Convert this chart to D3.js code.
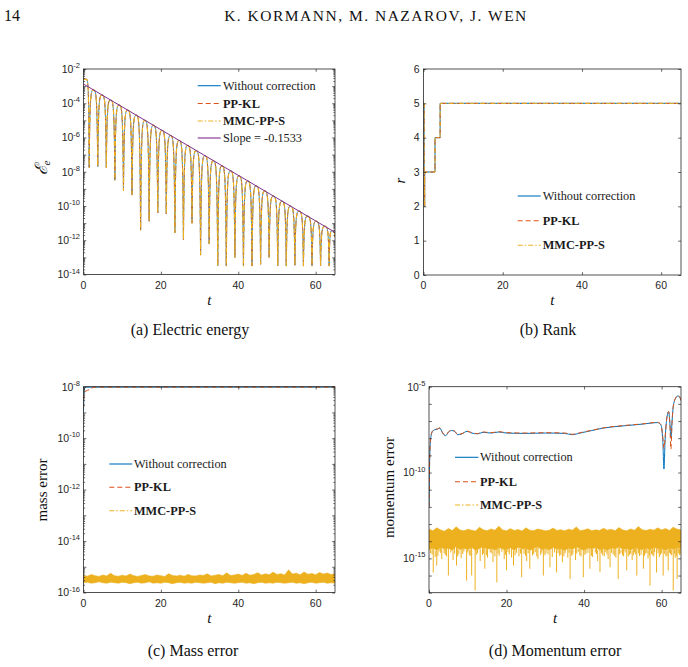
<!DOCTYPE html>
<html><head><meta charset="utf-8">
<script src="https://cdn.jsdelivr.net/npm/d3@7"></script>
<style>body{margin:0;background:#fff}svg{display:block}</style>
</head><body>
<svg id="c" width="688" height="667"></svg>
<script>
// ---------------- data ----------------
const tMax = 65;
const xTickVals = [0, 20, 40, 60];

// (a) electric energy: cusp (trough) knots, arch peaks
const eKnotT = [0, 1.47, 3.68, 5.90, 8.11, 10.33, 12.54, 14.76, 16.97, 19.19, 21.40, 23.62, 25.83, 28.05, 30.26, 32.48, 34.69, 36.91, 39.12, 41.34, 43.55, 45.77, 47.98, 50.20, 52.41, 54.63, 56.84, 59.06, 61.27, 63.49, 65];
const eKnotV = [2.5e-3, 1.8e-8, 2.0e-8, 1.8e-8, 3.2e-9, 8e-10, 4.5e-10, 4e-12, 1.3e-11, 4e-11, 3.5e-11, 2.8e-12, 1.1e-12, 1e-11, 1.4e-13, 6.3e-13, 3.2e-14, 3.2e-14, 1e-13, 3.2e-14, 3.2e-14, 4e-14, 1e-13, 3.2e-14, 3.2e-14, 3.5e-14, 3.2e-14, 3.2e-14, 3.2e-14, 3.2e-14, 1.5e-12];
const ePeakV = [2.5e-3, 6.0e-4, 3.0e-4, 1.54e-4, 7.8e-5, 3.9e-5, 2.0e-5, 1.0e-5, 5.2e-6, 2.6e-6, 1.3e-6, 6.7e-7, 3.4e-7, 1.7e-7, 8.7e-8, 4.4e-8, 2.2e-8, 1.14e-8, 5.8e-9, 2.9e-9, 1.5e-9, 7.5e-10, 3.8e-10, 1.9e-10, 9.8e-11, 5.0e-11, 2.5e-11, 1.28e-11, 6.5e-12, 3.6e-12];
const slopeT = [0, 65];
const slopeV = [1.32e-3, 2.9e-12];
const aYTicks = [1e-14, 1e-13, 1e-12, 1e-11, 1e-10, 1e-9, 1e-8, 1e-7, 1e-6, 1e-5, 1e-4, 1e-3, 1e-2];
const aYLabelExp = [-14, -12, -10, -8, -6, -4, -2];

// (b) rank
const rankT = [0, 0.15, 0.3, 2.9, 4.2, 65];
const rankV = [5, 2, 3, 4, 5, 5];
const bYTicks = [0, 1, 2, 3, 4, 5, 6];

// (c) mass error
const massBlueT = [0, 0.1, 0.2, 0.4, 0.8, 65];
const massBlueV = [1e-9, 5e-9, 8.5e-9, 9.4e-9, 9.6e-9, 9.6e-9];
const massRedT = [0, 0.15, 0.4, 1.0, 1.6, 2.2, 3.0, 65];
const massRedV = [1.5e-9, 5e-9, 6.5e-9, 7.2e-9, 7.8e-9, 9e-9, 9.6e-9, 9.6e-9];
const massBandT = d3.range(0, 66);
const massBandHi = [4.6e-16,4.3e-16,5e-16,4.5e-16,4.2e-16,4.8e-16,4.4e-16,5.6e-16,4.5e-16,4.3e-16,
  4.7e-16,4.4e-16,5.2e-16,4.5e-16,4.2e-16,4.6e-16,5e-16,4.4e-16,4.3e-16,4.8e-16,
  4.5e-16,4.2e-16,5.4e-16,4.6e-16,4.4e-16,4.7e-16,4.3e-16,5e-16,4.5e-16,4.4e-16,
  4.8e-16,4.6e-16,5.3e-16,4.4e-16,4.7e-16,5e-16,4.5e-16,5.8e-16,4.6e-16,4.8e-16,
  5.2e-16,4.6e-16,5.6e-16,4.7e-16,5e-16,5.9e-16,4.8e-16,5.3e-16,4.9e-16,6.2e-16,
  5e-16,5.4e-16,4.8e-16,7.6e-16,5.2e-16,5.6e-16,4.9e-16,6.3e-16,5.1e-16,5.5e-16,
  4.9e-16,6e-16,5.2e-16,5.7e-16,5e-16,5.4e-16];
const massBandLo = [2.4e-16,2.5e-16,2.3e-16,2.4e-16,2.6e-16,2.4e-16,2.3e-16,2.5e-16,2.4e-16,2.3e-16,
  2.5e-16,2.4e-16,2.2e-16,2.4e-16,2.5e-16,2.3e-16,2.4e-16,2.6e-16,2.3e-16,2.4e-16,
  2.3e-16,2.5e-16,2.4e-16,2.2e-16,2.4e-16,2.5e-16,2.3e-16,2.4e-16,2.3e-16,2.5e-16,
  2.4e-16,2.3e-16,2.4e-16,2.5e-16,2.2e-16,2.4e-16,2.3e-16,2.5e-16,2.4e-16,2.3e-16,
  2.4e-16,2.5e-16,2.3e-16,2.4e-16,2.2e-16,2.4e-16,2.5e-16,2.3e-16,2.4e-16,2.3e-16,
  2.5e-16,2.4e-16,2.3e-16,2.4e-16,2.5e-16,2.3e-16,2.4e-16,2.2e-16,2.4e-16,2.5e-16,
  2.3e-16,2.4e-16,2.5e-16,2.3e-16,2.4e-16,2.3e-16];
const cYTicks = [1e-16, 1e-15, 1e-14, 1e-13, 1e-12, 1e-11, 1e-10, 1e-9, 1e-8];
const cYLabelExp = [-16, -14, -12, -10, -8];

// (d) momentum error
const momT = [0, 0.2, 0.5, 0.9, 1.5, 2.2, 2.8, 3.5, 4.3, 5.0, 5.8, 6.6, 7.4, 8.5, 9.8, 11, 12.5, 14, 16, 18, 20, 25, 30, 35, 37, 39, 42, 45, 50, 55, 59, 59.8, 60.3, 60.6, 60.9, 61.3, 61.8, 62.1, 62.4, 62.7, 63.0, 63.6, 64.2, 64.6, 65];
const momBlueV = [1e-12, 1e-9, 1.26e-8, 2.5e-8, 3.1e-8, 3.4e-8, 3.9e-8, 2e-8, 1.4e-8, 2.2e-8, 2.8e-8, 2.5e-8, 1.6e-8, 1.8e-8, 2.5e-8, 2e-8, 1.8e-8, 2.2e-8, 2e-8, 2.3e-8, 2e-8, 1.9e-8, 2e-8, 1.9e-8, 1.6e-8, 2e-8, 2.8e-8, 3.9e-8, 5.2e-8, 6.6e-8, 8.1e-8, 6e-8, 8.1e-9, 1.6e-10, 7.9e-9, 1.2e-7, 3.5e-7, 1e-7, 1e-8, 1e-7, 6.9e-7, 2.1e-6, 2.9e-6, 2.6e-6, 1.55e-6];
const momRedV = [1e-12, 1e-9, 1.3e-8, 2.6e-8, 3.2e-8, 3.5e-8, 4e-8, 2.1e-8, 1.45e-8, 2.3e-8, 2.9e-8, 2.6e-8, 1.65e-8, 1.85e-8, 2.6e-8, 2.1e-8, 1.85e-8, 2.3e-8, 2.1e-8, 2.4e-8, 2.1e-8, 2e-8, 2.1e-8, 2e-8, 1.7e-8, 2.1e-8, 2.9e-8, 4e-8, 5.4e-8, 6.8e-8, 8.4e-8, 6.3e-8, 1.2e-8, 2.5e-9, 1.1e-8, 1.25e-7, 3.6e-7, 9e-8, 2.3e-9, 9e-8, 7e-7, 2.2e-6, 3e-6, 2.7e-6, 1.6e-6];
const momBandT = d3.range(0, 66);
const momBandHi = [5e-14,4e-14,6e-14,4.5e-14,3.8e-14,5.5e-14,4.2e-14,7e-14,4.5e-14,4e-14,
  5e-14,4.4e-14,3.9e-14,6.5e-14,4.6e-14,4.1e-14,5.2e-14,4.3e-14,7.5e-14,4.5e-14,
  4e-14,5.4e-14,4.2e-14,4.8e-14,3.9e-14,6e-14,4.4e-14,4.1e-14,5.1e-14,4.6e-14,
  4e-14,4.3e-14,5.8e-14,4.2e-14,4.7e-14,4e-14,5e-14,4.4e-14,6.8e-14,4.1e-14,
  4.5e-14,5.3e-14,4e-14,4.6e-14,4.2e-14,5.6e-14,4.4e-14,4.9e-14,4.1e-14,6.2e-14,
  4.5e-14,4e-14,5.2e-14,4.3e-14,7.2e-14,4.6e-14,4.2e-14,5e-14,4.4e-14,6e-14,
  4.5e-14,5.5e-14,4.2e-14,6.6e-14,5e-14,4.6e-14];
const momBandLo = [3.1e-15,4.2e-15,2.8e-15,4.6e-15,3.5e-15,3.9e-15,2.9e-15,5e-15,3.2e-15,4e-15,
  3.1e-15,4.5e-15,2.9e-15,3.7e-15,4.8e-15,3.4e-15,3.9e-15,3e-15,4.3e-15,3.5e-15,
  3.2e-15,4.1e-15,2.9e-15,4.6e-15,3.5e-15,3.9e-15,2.9e-15,3.8e-15,4.9e-15,3.2e-15,
  3.9e-15,3e-15,4.4e-15,3.4e-15,3.7e-15,2.8e-15,4.2e-15,3.3e-15,4.7e-15,3.6e-15,
  3e-15,4e-15,3.5e-15,4.5e-15,3.1e-15,3.7e-15,2.9e-15,4.2e-15,3.4e-15,4.9e-15,
  3.2e-15,3.9e-15,2.9e-15,4.3e-15,3.5e-15,3.2e-15,4.1e-15,3e-15,4.6e-15,3.5e-15,
  3.8e-15,2.9e-15,4.2e-15,3.3e-15,4.5e-15,3.5e-15];
const momSpikes = [[0.4,2e-15],[1.1,1.5e-16],[1.6,1.2e-15],[2.0,3.8e-16],[2.6,2.5e-15],[3.3,9e-16],[3.9,2e-15],[4.5,1.3e-15],[5.0,1e-16],[5.6,2.2e-15],
  [6.2,8e-16],[7.1,3.8e-16],[7.7,1.8e-15],[8.3,1e-15],[9.0,2.5e-15],[9.7,5e-17],[10.4,1.5e-15],[11.0,1e-16],[11.9,1.35e-17],[12.5,2e-15],
  [13.2,7e-16],[13.8,1.6e-15],[14.4,2.5e-16],[15.1,1.1e-15],[15.8,2.2e-15],[16.5,6e-16],[17.5,4e-17],[18.1,1.4e-15],[18.8,2.4e-15],[19.4,9e-16],
  [20.0,2e-16],[20.7,1.7e-15],[21.3,1.1e-15],[21.8,3.8e-16],[22.6,2.1e-15],[23.2,1.3e-15],[23.9,8e-17],[24.5,1.8e-15],[25.2,7e-16],[26.0,2.5e-16],
  [26.7,1.5e-15],[27.4,2.3e-15],[28.1,9e-16],[28.8,1.6e-15],[29.5,1e-16],[30.2,2e-15],[31.2,3e-16],[31.8,1.2e-15],[32.4,2.2e-15],[32.9,1.5e-16],
  [33.7,1.4e-15],[34.4,6e-16],[35.1,2e-15],[35.8,1.1e-15],[36.4,6.3e-17],[37.1,1.7e-15],[37.8,8e-16],[38.5,2.4e-15],[39.2,1.3e-15],[39.8,8e-17],
  [40.5,1.9e-15],[41.5,2.5e-16],[42.2,1.2e-15],[42.9,2.2e-15],[43.5,7e-16],[44.1,1.6e-16],[44.8,1.5e-15],[45.6,2.3e-15],[46.2,9e-16],[46.7,3e-16],
  [47.5,1.7e-15],[48.2,1.1e-15],[48.8,6.3e-17],[49.5,2e-15],[50.2,1.3e-15],[51.0,2e-16],[51.7,1.6e-15],[52.4,8e-16],[53.0,2.2e-15],[53.6,1e-16],
  [54.3,1.4e-15],[55.3,2.5e-16],[55.9,1.9e-15],[56.5,1e-15],[57.0,2.6e-17],[57.7,1.5e-15],[58.2,2.3e-15],[58.7,1.5e-16],[59.4,1.2e-15],[60.0,2e-15],
  [60.4,1e-16],[61.1,1.3e-15],[61.7,2e-16],[62.3,1.8e-15],[63.0,1.35e-17],[63.5,1.1e-15],[64.0,6.3e-17],[64.6,1.6e-15],
  [0.8,1.7e-15],[2.3,1.4e-15],[3.0,2.1e-15],[4.2,1.6e-15],[6.6,1.9e-15],[7.4,1.3e-15],[8.7,1.8e-15],[10.0,2.2e-15],[10.8,1.4e-15],[12.2,1.6e-15],
  [14.1,1.9e-15],[14.8,1.5e-15],[16.2,2e-15],[17.0,1.3e-15],[17.8,1.9e-15],[19.7,1.6e-15],[20.4,2.3e-15],[22.2,1.5e-15],[23.6,1.9e-15],[24.9,1.4e-15],
  [25.6,2e-15],[27.0,1.8e-15],[27.8,1.3e-15],[29.1,2.1e-15],[29.9,1.5e-15],[30.7,1.7e-15],[33.3,2e-15],[34.0,1.6e-15],[34.8,1.3e-15],[36.1,2.1e-15],
  [36.8,1.4e-15],[38.1,1.9e-15],[38.9,1.5e-15],[40.2,1.6e-15],[41.0,2.1e-15],[41.9,1.4e-15],[43.2,1.8e-15],[44.5,2e-15],[45.2,1.3e-15],[45.9,1.7e-15],
  [47.1,2.1e-15],[47.9,1.4e-15],[49.1,1.7e-15],[49.9,1.5e-15],[50.6,2.2e-15],[51.4,1.3e-15],[52.0,1.9e-15],[52.7,1.5e-15],[53.3,1.7e-15],[54.0,2e-15],
  [54.7,1.6e-15],[55.6,1.4e-15],[56.2,2.1e-15],[56.8,1.5e-15],[57.4,1.8e-15],[58.0,1.3e-15],[59.1,2e-15],[59.7,1.6e-15],[60.7,1.8e-15],[61.4,1.4e-15],
  [62.0,2.1e-15],[62.6,1.5e-15],[63.3,1.9e-15],[63.8,1.4e-15],[64.3,2e-15],[64.8,1.7e-15]];
const dYTicks = [1e-17,1e-16,1e-15,1e-14,1e-13,1e-12,1e-11,1e-10,1e-9,1e-8,1e-7,1e-6,1e-5];
const dYLabelExp = [-15, -10, -5];

const legendLabels = ["Without correction", "PP-KL", "MMC-PP-S", "Slope = -0.1533"];

// ---------------- style ----------------
const C = {blue:'#0072BD', red:'#D95319', yellow:'#EDB120', purple:'#7E2F8E', axis:'#262626'};
const SANS = "'Liberation Sans', Arial, Helvetica, sans-serif";
const SERIF = "'Liberation Serif', 'Times New Roman', serif";
const DASH = {solid:null, dashed:'5,3', dashdot:'5,2,1.5,2'};
const svg = d3.select('#c');

function makePanel(id, box, y) {
  const x = d3.scaleLinear().domain([0, tMax]).range([box.l, box.r]);
  y.range([box.b, box.t]);
  const g = svg.append('g');
  g.append('clipPath').attr('id', id).append('rect')
    .attr('x', box.l).attr('y', box.t - 1).attr('width', box.r - box.l).attr('height', box.b - box.t + 2);
  const plot = g.append('g').attr('clip-path', `url(#${id})`);
  return {g, plot, x, y, box};
}

function frame(p, o) {
  const {g, x, y, box} = p;
  const ax = g.append('g');
  const clean = s => { s.select('.domain').remove(); s.selectAll('text').remove();
    s.selectAll('line').attr('stroke', C.axis).attr('stroke-width', 0.7); };
  const tl = 2.8;
  ax.append('g').attr('transform', `translate(0,${box.b})`).call(d3.axisBottom(x).tickValues(xTickVals).tickSizeInner(-tl).tickSizeOuter(0)).call(clean);
  ax.append('g').attr('transform', `translate(0,${box.t})`).call(d3.axisTop(x).tickValues(xTickVals).tickSizeInner(-tl).tickSizeOuter(0)).call(clean);
  ax.append('g').attr('transform', `translate(${box.l},0)`).call(d3.axisLeft(y).tickValues(o.yTicks).tickSizeInner(-tl).tickSizeOuter(0)).call(clean);
  ax.append('g').attr('transform', `translate(${box.r},0)`).call(d3.axisRight(y).tickValues(o.yTicks).tickSizeInner(-tl).tickSizeOuter(0)).call(clean);
  if (o.minor) {
    const minor = y.ticks(40).filter(v => !o.yTicks.some(t => Math.abs(t - v) / t < 1e-6));
    ax.append('g').attr('transform', `translate(${box.l},0)`).call(d3.axisLeft(y).tickValues(minor).tickSizeInner(-1.6).tickSizeOuter(0)).call(clean);
    ax.append('g').attr('transform', `translate(${box.r},0)`).call(d3.axisRight(y).tickValues(minor).tickSizeInner(-1.6).tickSizeOuter(0)).call(clean);
  }
  ax.append('rect').attr('x', box.l).attr('y', box.t).attr('width', box.r - box.l).attr('height', box.b - box.t)
    .attr('fill', 'none').attr('stroke', C.axis).attr('stroke-width', 0.8);
  g.append('g').selectAll('text').data(xTickVals).join('text')
    .attr('x', d => x(d)).attr('y', box.b + 14).attr('text-anchor', 'middle')
    .attr('font-family', SANS).attr('font-size', 10.5).attr('fill', C.axis).text(d => d);
  const yl = g.append('g');
  if (o.exps) {
    const t = yl.selectAll('text').data(o.exps).join('text')
      .attr('x', box.l - 3.5).attr('y', d => y(Math.pow(10, d)) + 3.8).attr('text-anchor', 'end')
      .attr('font-family', SANS).attr('font-size', 10.5).attr('fill', C.axis);
    t.append('tspan').text('10');
    t.append('tspan').attr('dy', -4.8).attr('font-size', 7.5).text(d => String(d));
  } else {
    yl.selectAll('text').data(o.yTicks).join('text')
      .attr('x', box.l - 4).attr('y', d => y(d) + 3.8).attr('text-anchor', 'end')
      .attr('font-family', SANS).attr('font-size', 10.5).attr('fill', C.axis).text(d => d);
  }
  g.append('text').attr('x', (box.l + box.r) / 2).attr('y', box.b + 30).attr('text-anchor', 'middle')
    .attr('font-family', SERIF).attr('font-style', 'italic').attr('font-size', 15).attr('fill', '#111').text('t');
}

function yLabel(cx, cy, build) {
  const t = svg.append('text').attr('transform', `translate(${cx},${cy}) rotate(-90)`)
    .attr('text-anchor', 'middle').attr('dy', '0.3em')
    .attr('font-family', SERIF).attr('font-size', 15).attr('fill', '#111');
  build(t);
}

function legend(entries, x0, x1, xt, ys) {
  const g = svg.append('g');
  entries.forEach((e, i) => {
    g.append('line').attr('x1', x0).attr('x2', x1).attr('y1', ys[i]).attr('y2', ys[i])
      .attr('stroke', e.color).attr('stroke-width', 1.1).attr('stroke-dasharray', DASH[e.dash]);
    g.append('text').attr('x', xt).attr('y', ys[i] + 4).attr('font-family', SERIF)
      .attr('font-size', 12.3).attr('font-weight', e.bold ? 'bold' : 'normal').attr('fill', '#1a1a1a').text(e.label);
  });
}

const series3 = [
  {color: C.blue, dash: 'solid', label: legendLabels[0], bold: false},
  {color: C.red, dash: 'dashed', label: legendLabels[1], bold: true},
  {color: C.yellow, dash: 'dashdot', label: legendLabels[2], bold: true}
];

function strokeLine(p, pts, s, curve, w) {
  const line = d3.line().x(d => p.x(d[0])).y(d => p.y(d[1])).curve(curve || d3.curveLinear);
  p.plot.append('path').attr('d', line(pts)).attr('fill', 'none').attr('stroke', s.color)
    .attr('stroke-width', w || 1).attr('stroke-dasharray', DASH[s.dash]).attr('stroke-linejoin', 'round');
}

// ---------------- header ----------------
svg.append('text').attr('x', 4).attr('y', 21).attr('font-family', SERIF).attr('font-size', 16).attr('fill', '#111').text('14');
svg.append('text').attr('x', 376).attr('y', 21).attr('text-anchor', 'middle').attr('font-family', SERIF)
  .attr('font-size', 15.5).attr('letter-spacing', 1.5).attr('fill', '#111').text('K. KORMANN, M. NAZAROV, J. WEN');

// ---------------- (a) ----------------
{
  const p = makePanel('clipA', {l: 83.5, r: 335, t: 69, b: 274.5}, d3.scaleLog().domain([1e-14, 1e-2]));
  const pts = [];
  eKnotT.forEach((t, i) => {
    const v = eKnotV[i];
    pts.push([t, v], [t, v], [t, v]);
    if (i < eKnotT.length - 1) {
      const w = eKnotT[i + 1] - t;
      pts.push([t + 0.1 * w, ePeakV[i]], [t + 0.5 * w, ePeakV[i]], [t + 0.9 * w, ePeakV[i]]);
    }
  });
  const widths = [0.8, 0.8, 1.15];
  series3.forEach((s, i) => strokeLine(p, pts, s, d3.curveBasis, widths[i]));
  strokeLine(p, slopeT.map((t, i) => [t, slopeV[i]]), {color: C.purple, dash: 'solid'}, d3.curveLinear, 1);
  frame(p, {yTicks: aYTicks, exps: aYLabelExp, minor: true});
  legend([...series3, {color: C.purple, dash: 'solid', label: legendLabels[3], bold: false}], 197.7, 220.7, 223, [85.7, 103.5, 121, 138]);
  yLabel(42, 168, t => { t.append('tspan').attr('font-family', "'DejaVu Serif', serif").attr('font-style', 'italic').attr('font-size', 17).text('ℰ');
    t.append('tspan').attr('font-style', 'italic').attr('font-size', 11).attr('dy', 3).text('e'); });
}

// ---------------- (b) ----------------
{
  const p = makePanel('clipB', {l: 423.5, r: 681, t: 69, b: 275}, d3.scaleLinear().domain([0, 6]));
  const pts = rankT.map((t, i) => [t, rankV[i]]);
  series3.forEach(s => strokeLine(p, pts, s, d3.curveStepAfter, 1));
  frame(p, {yTicks: bYTicks});
  legend(series3, 517.7, 540.7, 542.7, [196, 220.7, 245.3]);
  yLabel(400, 180.5, t => t.attr('font-style', 'italic').text('r'));
}

// ---------------- (c) ----------------
{
  const p = makePanel('clipC', {l: 83.5, r: 335, t: 386.7, b: 592.5}, d3.scaleLog().domain([1e-16, 1e-8]));
  strokeLine(p, massBlueT.map((t, i) => [t, massBlueV[i]]), series3[0], d3.curveLinear, 1);
  strokeLine(p, massRedT.map((t, i) => [t, massRedV[i]]), series3[1], d3.curveLinear, 1);
  const area = d3.area().x(d => p.x(d)).y0((d, i) => p.y(massBandLo[i])).y1((d, i) => p.y(massBandHi[i])).curve(d3.curveLinear);
  p.plot.append('path').attr('d', area(massBandT)).attr('fill', C.yellow).attr('stroke', C.yellow).attr('stroke-width', 0.6);
  frame(p, {yTicks: cYTicks, exps: cYLabelExp, minor: true});
  legend(series3, 109.3, 132.3, 134, [464, 487.3, 510.7]);
  yLabel(42.5, 490, t => t.text('mass error'));
}

// ---------------- (d) ----------------
{
  const p = makePanel('clipD', {l: 429, r: 681, t: 386.7, b: 592.7}, d3.scaleLog().domain([1e-17, 1e-5]));
  strokeLine(p, momT.map((t, i) => [t, momBlueV[i]]), series3[0], d3.curveMonotoneX, 1);
  strokeLine(p, momT.map((t, i) => [t, momRedV[i]]), series3[1], d3.curveMonotoneX, 1);
  const area = d3.area().x(d => p.x(d)).y0((d, i) => p.y(momBandLo[i])).y1((d, i) => p.y(momBandHi[i])).curve(d3.curveLinear);
  p.plot.append('path').attr('d', area(momBandT)).attr('fill', C.yellow).attr('stroke', C.yellow).attr('stroke-width', 0.6);
  p.plot.append('g').selectAll('line').data(momSpikes).join('line')
    .attr('x1', d => p.x(d[0])).attr('x2', d => p.x(d[0]))
    .attr('y1', d => p.y(momBandLo[Math.round(d[0])])).attr('y2', d => p.y(d[1]))
    .attr('stroke', C.yellow).attr('stroke-width', 1);
  frame(p, {yTicks: dYTicks, exps: dYLabelExp, minor: false});
  legend(series3, 455, 478.3, 480, [457.3, 481.7, 505]);
  yLabel(389.5, 487.5, t => t.text('momentum error'));
}

// ---------------- captions ----------------
const captions = [["(a) Electric energy", 190, 335], ["(b) Rank", 548, 335], ["(c) Mass error", 193, 656], ["(d) Momentum error", 555, 656]];
svg.append('g').selectAll('text').data(captions).join('text')
  .attr('x', d => d[1]).attr('y', d => d[2]).attr('text-anchor', 'middle')
  .attr('font-family', SERIF).attr('font-size', 16).attr('fill', '#111').text(d => d[0]);
</script>
</body></html>
